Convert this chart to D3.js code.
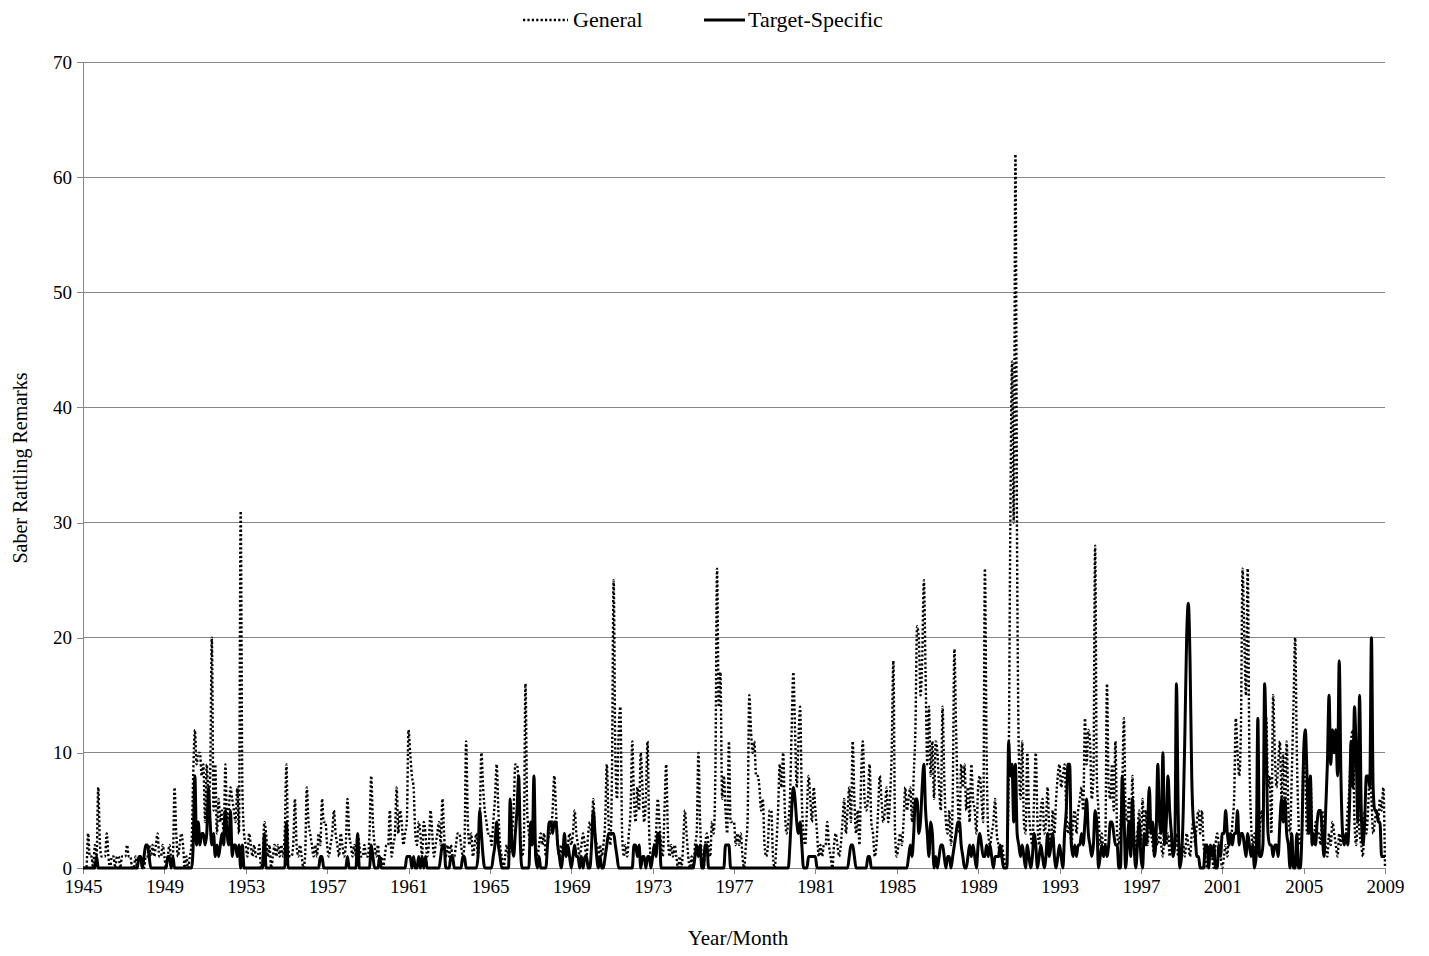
<!DOCTYPE html>
<html>
<head>
<meta charset="utf-8">
<script src="https://cdn.jsdelivr.net/npm/d3@7"></script>
<style>
  html, body { margin: 0; padding: 0; background: #fff; }
  svg { display: block; }
  text { font-family: "Liberation Serif", "Times New Roman", serif; fill: #000; }
</style>
</head>
<body>
<svg id="chart" width="1429" height="956"></svg>
<script>
// ---- Data (monthly, Jan 1945 – Jan 2009) ----
const tickLabels = ["1945","1949","1953","1957","1961","1965","1969","1973","1977","1981","1985","1989","1993","1997","2001","2005","2009"];
const yTicks = [0,10,20,30,40,50,60,70];
const seriesNames = ["General", "Target-Specific"];

const general = [
  0,0,0,3,1,1,0,2,1,7,2,1,        // 1945
  1,1,3,1,0,1,1,0,1,1,0,1,        // 1946
  1,1,2,1,1,0,0,1,0,1,1,0,        // 1947
  0,1,1,2,1,2,1,2,3,1,1,2,        // 1948
  1,0,1,2,1,1,7,3,1,2,3,2,        // 1949
  0,1,0,1,2,8,12,9,10,10,8,9,     // 1950
  4,9,6,8,20,5,9,3,6,4,5,3,       // 1951
  9,4,5,7,6,5,4,7,3,31,7,3,       // 1952
  2,1,3,2,1,2,1,1,2,0,1,4,        // 1953
  3,1,2,0,1,2,1,2,1,2,1,3,        // 1954
  9,2,1,1,2,6,2,1,2,1,0,1,        // 1955
  7,4,3,2,1,2,1,3,2,6,4,4,        // 1956
  2,1,2,3,5,3,2,1,3,2,1,2,        // 1957
  6,3,2,1,2,1,3,2,1,1,2,1,        // 1958
  1,3,8,4,2,1,2,0,1,0,1,2,        // 1959
  2,5,1,2,3,7,3,5,4,2,3,4,        // 1960
  12,10,8,7,3,2,4,3,1,4,3,1,      // 1961
  2,5,3,1,2,3,4,2,6,3,1,2,        // 1962
  1,2,1,1,2,3,3,2,1,2,11,4,       // 1963
  2,3,1,2,3,1,4,10,7,5,4,3,       // 1964
  3,2,4,6,9,5,2,1,0,1,2,1,        // 1965
  2,3,5,9,9,7,3,1,2,16,5,3,       // 1966
  2,3,3,2,1,2,3,2,3,1,2,3,        // 1967
  3,5,8,5,2,1,2,1,2,1,2,3,        // 1968
  2,3,5,3,2,1,2,3,2,1,3,4,        // 1969
  3,6,3,2,1,2,1,2,4,9,4,2,        // 1970
  8,25,10,6,12,14,3,1,2,1,3,5,    // 1971
  11,6,4,7,5,10,7,4,6,11,3,1,     // 1972
  1,2,3,6,4,2,1,5,9,3,1,2,        // 1973
  1,2,1,0,1,0,2,5,3,1,0,1,        // 1974
  0,2,3,10,4,1,0,2,3,2,1,4,       // 1975
  3,8,26,14,17,6,8,5,3,11,4,4,    // 1976
  4,2,3,2,3,1,0,2,4,15,12,10,     // 1977
  11,8,8,7,5,6,2,1,2,5,5,1,       // 1978
  0,2,5,9,7,10,5,3,4,6,12,17,     // 1979
  12,7,11,14,6,3,2,5,8,6,4,7,     // 1980
  5,3,1,2,1,2,2,4,2,1,0,2,        // 1981
  3,2,1,2,4,6,3,5,7,4,11,6,       // 1982
  3,5,2,8,11,6,5,6,9,4,3,1,       // 1983
  2,5,8,6,4,5,7,4,6,10,18,3,      // 1984
  1,2,3,2,4,7,5,6,7,4,8,12,       // 1985
  21,20,15,18,25,17,9,14,8,11,6,11, // 1986
  10,7,5,14,8,4,3,5,2,6,19,12,    // 1987
  6,3,9,7,9,5,7,4,9,6,5,3,        // 1988
  7,8,6,4,26,10,3,2,3,4,6,3,      // 1989
  2,1,2,1,0,1,8,30,44,30,62,27,   // 1990
  10,6,11,4,3,10,5,3,2,6,10,4,    // 1991
  2,5,6,3,4,7,3,2,5,3,6,8,        // 1992
  9,7,8,9,5,3,4,2,4,5,3,5,        // 1993
  6,7,5,13,9,12,11,6,8,28,8,5,    // 1994
  2,3,1,2,16,7,6,9,5,11,3,2,      // 1995
  4,7,13,5,4,6,2,8,3,2,3,5,       // 1996
  2,6,3,5,2,4,3,2,1,3,2,3,        // 1997
  2,1,5,2,3,1,3,1,2,3,1,2,        // 1998
  1,2,1,3,2,1,3,4,2,4,5,3,        // 1999
  5,2,1,0,1,2,1,0,2,3,2,1,        // 2000
  0,1,2,1,3,2,4,6,13,10,8,12,     // 2001
  26,20,15,26,10,4,2,3,1,2,3,5,   // 2002
  4,10,13,7,8,3,15,10,7,9,11,6,   // 2003
  10,4,11,5,3,8,14,20,10,4,2,3,   // 2004
  10,8,3,4,8,3,2,4,3,3,2,5,       // 2005
  3,2,1,3,2,4,3,2,1,3,2,3,        // 2006
  2,3,5,7,11,12,4,2,5,3,2,1,      // 2007
  5,3,5,8,6,3,4,5,4,6,5,7,        // 2008
  0                               // 2009 Jan
];

const targetSpecific = [
  0,0,0,0,0,0,0,0,1,0,0,0,        // 1945
  0,0,0,0,0,0,0,0,0,0,0,0,        // 1946
  0,0,0,0,0,0,0,0,0,1,1,0,        // 1947
  1,2,2,1,0,0,0,0,0,0,0,0,        // 1948
  0,0,1,1,0,1,0,0,0,0,0,0,        // 1949
  0,0,0,0,0,2,8,2,4,2,3,3,        // 1950
  2,3,7,4,2,3,1,2,1,2,3,2,        // 1951
  5,3,2,5,1,2,2,1,2,0,2,0,        // 1952
  0,0,0,0,0,0,0,0,0,0,0,3,        // 1953
  0,0,0,0,0,0,0,0,0,0,0,0,        // 1954
  4,0,0,0,0,0,0,0,0,0,0,0,        // 1955
  0,0,0,0,0,0,0,0,1,1,0,0,        // 1956
  0,0,0,0,0,0,0,0,0,0,0,0,        // 1957
  1,0,0,0,0,0,3,0,0,0,0,0,        // 1958
  0,0,2,1,0,0,0,1,0,0,0,0,        // 1959
  0,0,0,0,0,0,0,0,0,0,0,1,        // 1960
  1,1,0,1,0,0,1,0,1,0,1,0,        // 1961
  0,0,0,0,0,0,0,1,2,2,0,0,        // 1962
  0,1,1,0,0,0,0,0,1,1,0,0,        // 1963
  0,0,0,0,0,1,5,3,1,0,0,0,        // 1964
  0,0,1,2,4,2,1,0,0,0,0,0,        // 1965
  6,2,1,3,5,8,2,0,0,0,0,0,        // 1966
  4,2,8,1,0,1,0,0,0,0,2,4,        // 1967
  4,3,4,4,2,1,0,1,3,1,2,1,        // 1968
  0,1,2,1,1,0,1,0,1,1,0,0,        // 1969
  2,5,3,1,0,1,0,0,1,2,3,3,        // 1970
  3,3,2,1,0,0,0,0,0,0,0,0,        // 1971
  0,2,2,1,2,0,1,1,0,1,1,0,        // 1972
  1,2,1,3,3,0,0,0,0,0,0,0,        // 1973
  0,0,0,0,0,0,0,0,0,0,0,0,        // 1974
  0,1,2,1,2,0,0,2,2,0,0,0,        // 1975
  0,0,0,0,0,0,0,2,2,2,0,0,        // 1976
  0,0,0,0,0,0,0,0,0,0,0,0,        // 1977
  0,0,0,0,0,0,0,0,0,0,0,0,        // 1978
  0,0,0,0,0,0,0,0,0,2,5,7,        // 1979
  6,4,3,4,2,0,0,0,1,1,1,1,        // 1980
  1,0,0,0,0,0,0,0,0,0,0,0,        // 1981
  0,0,0,0,0,0,0,0,1,2,2,1,        // 1982
  0,0,0,0,0,0,0,1,1,0,0,0,        // 1983
  0,0,0,0,0,0,0,0,0,0,0,0,        // 1984
  0,0,0,0,0,0,0,1,2,1,3,6,        // 1985
  6,3,4,7,9,5,3,1,4,3,0,1,        // 1986
  0,1,2,2,1,0,1,1,0,1,2,3,        // 1987
  4,4,2,1,0,0,1,2,1,2,1,0,        // 1988
  2,3,2,1,1,2,1,2,1,0,1,1,        // 1989
  1,2,1,0,0,0,11,8,9,4,9,3,       // 1990
  2,1,2,1,0,2,1,0,1,3,2,0,        // 1991
  1,2,1,0,1,3,1,2,3,1,0,1,        // 1992
  2,1,0,3,5,9,9,2,1,2,1,2,        // 1993
  2,3,2,4,6,3,2,1,2,5,4,0,        // 1994
  1,2,1,2,1,2,4,4,3,2,2,0,        // 1995
  0,8,5,0,2,4,1,6,2,0,2,4,        // 1996
  1,0,3,2,4,7,3,4,1,3,9,4,        // 1997
  3,10,2,4,8,5,3,1,2,16,5,0,      // 1998
  1,5,12,20,23,18,8,4,3,1,1,0,    // 1999
  0,0,2,2,0,2,1,2,0,0,2,1,        // 2000
  3,3,5,3,2,3,2,3,3,5,2,3,        // 2001
  3,2,1,3,2,1,2,0,1,13,1,1,       // 2002
  2,16,10,3,2,2,1,2,2,1,4,6,      // 2003
  4,6,3,2,0,3,0,0,3,0,0,3,        // 2004
  10,12,8,3,8,2,3,2,4,5,5,3,      // 2005
  1,5,9,15,9,12,10,12,8,18,8,3,   // 2006
  2,3,2,5,11,7,14,10,4,15,5,2,    // 2007
  4,8,8,7,20,7,5,5,4,4,1,1,       // 2008
  1                               // 2009 Jan
];

// ---- Layout ----
const svg = d3.select("#chart");
const margin = { left: 83, right: 1385, top: 62, bottom: 868 };
const nMonths = general.length - 1; // 768 intervals

const x = d3.scaleLinear().domain([0, nMonths]).range([margin.left, margin.right]);
const y = d3.scaleLinear().domain([0, 70]).range([margin.bottom, margin.top]);

const gridColor = "#868686";

// gridlines
svg.append("g")
  .selectAll("line")
  .data(yTicks.filter(d => d > 0))
  .join("line")
  .attr("x1", margin.left).attr("x2", margin.right)
  .attr("y1", d => y(d)).attr("y2", d => y(d))
  .attr("stroke", gridColor).attr("stroke-width", 1)
  .attr("shape-rendering", "crispEdges");

// y axis
const yAxis = svg.append("g")
  .attr("transform", `translate(${margin.left},0)`)
  .call(d3.axisLeft(y).tickValues(yTicks).tickSize(6).tickPadding(5).tickFormat(d3.format("d")));
yAxis.select(".domain").attr("stroke", gridColor).attr("shape-rendering", "crispEdges");
yAxis.selectAll(".tick line").attr("stroke", gridColor).attr("shape-rendering", "crispEdges");
yAxis.selectAll("text").attr("font-size", 19).attr("font-family", "Liberation Serif").attr("fill", "#000");

// x axis
const xTickVals = tickLabels.map((d, i) => i * 48);
const xAxis = svg.append("g")
  .attr("transform", `translate(0,${margin.bottom})`)
  .call(d3.axisBottom(x).tickValues(xTickVals).tickSize(6).tickSizeOuter(0).tickPadding(6)
    .tickFormat((d, i) => tickLabels[i]));
xAxis.select(".domain").attr("stroke", gridColor).attr("shape-rendering", "crispEdges");
xAxis.selectAll(".tick line").attr("stroke", gridColor).attr("shape-rendering", "crispEdges");
xAxis.selectAll("text").attr("font-size", 19).attr("font-family", "Liberation Serif").attr("fill", "#000");

// lines
const line = d3.line()
  .x((d, i) => x(i))
  .y(d => y(d))
  .curve(d3.curveMonotoneX);

svg.append("path")
  .datum(general)
  .attr("d", line)
  .attr("fill", "none")
  .attr("stroke", "#000")
  .attr("stroke-width", 2.4)
  .attr("stroke-dasharray", "2.2,2.2");

svg.append("path")
  .datum(targetSpecific)
  .attr("d", line)
  .attr("fill", "none")
  .attr("stroke", "#000")
  .attr("stroke-width", 3)
  .attr("stroke-linejoin", "round");

// axis titles
svg.append("text")
  .attr("x", (margin.left + margin.right) / 2 + 4)
  .attr("y", 945)
  .attr("text-anchor", "middle")
  .attr("font-size", 21)
  .text("Year/Month");

svg.append("text")
  .attr("transform", `translate(27,${(margin.top + margin.bottom) / 2 + 3}) rotate(-90)`)
  .attr("text-anchor", "middle")
  .attr("font-size", 20)
  .text("Saber Rattling Remarks");

// legend
const legend = svg.append("g");
const legendItems = [
  { name: seriesNames[0], x1: 523, x2: 568, dash: "2.2,2.2", w: 2.4, tx: 573 },
  { name: seriesNames[1], x1: 704, x2: 745, dash: null, w: 3, tx: 748 }
];
legendItems.forEach(it => {
  legend.append("line")
    .attr("x1", it.x1).attr("x2", it.x2)
    .attr("y1", 20).attr("y2", 20)
    .attr("stroke", "#000").attr("stroke-width", it.w)
    .attr("stroke-dasharray", it.dash);
  legend.append("text")
    .attr("x", it.tx).attr("y", 27)
    .attr("font-size", 22)
    .text(it.name);
});
</script>
</body>
</html>
